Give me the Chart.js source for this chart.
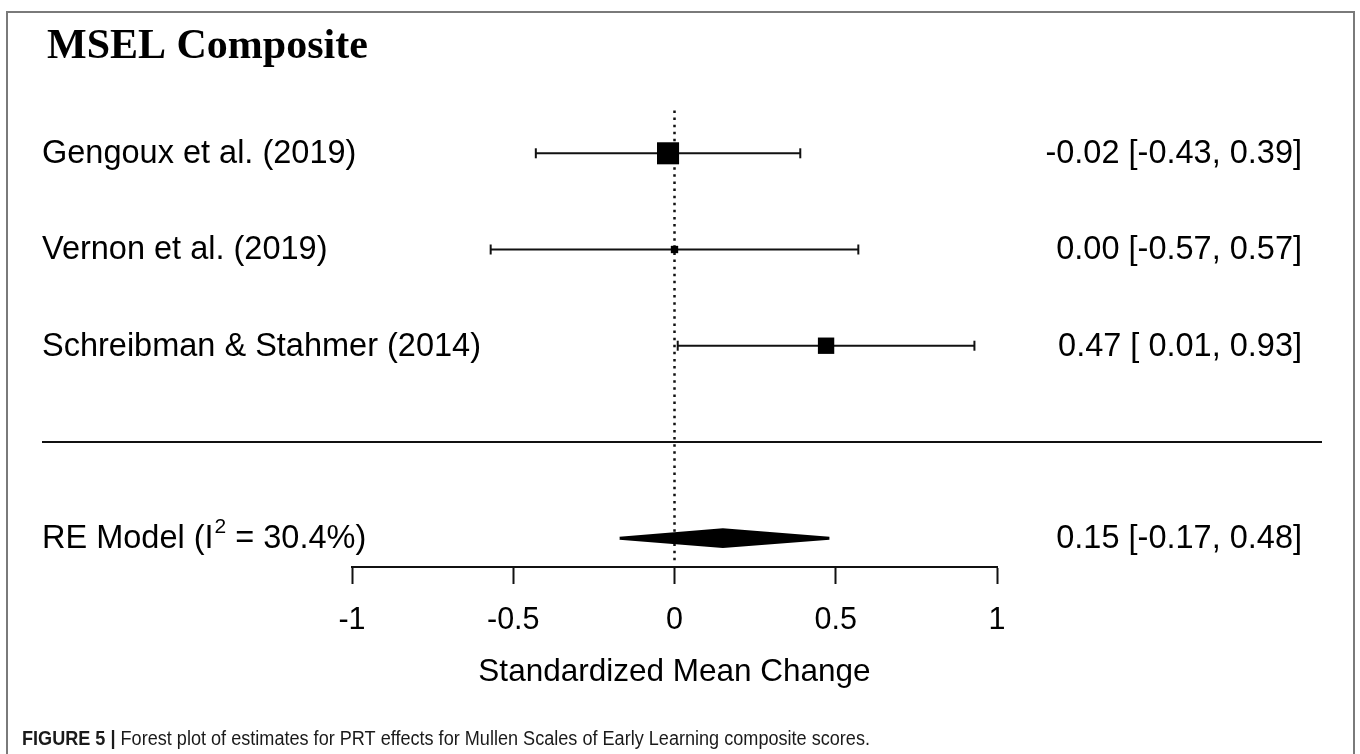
<!DOCTYPE html>
<html>
<head>
<meta charset="utf-8">
<script src="https://cdn.jsdelivr.net/npm/chart.js@4.4.1/dist/chart.umd.min.js"></script>
<style>
html,body{margin:0;padding:0;background:#fff;}
#wrap{position:relative;width:1360px;height:754px;}
canvas{display:block;}
</style>
</head>
<body>
<div id="wrap"><canvas id="c" width="1360" height="754"></canvas></div>
<script>
// ---------- data ----------
const studies = ['Gengoux et al. (2019)', 'Vernon et al. (2019)', 'Schreibman & Stahmer (2014)'];
const estimates = [-0.02, 0.00, 0.47];
const ciLower = [-0.43, -0.57, 0.01];
const ciUpper = [0.39, 0.57, 0.93];
const summaryLabel = 'RE Model';
const summaryI2 = '30.4%';
const summaryEstimate = [0.15];
const summaryLower = [-0.17];
const summaryUpper = [0.48];
const xTicks = [-1, -0.5, 0, 0.5, 1];
const xTickLabels = ['-1', '-0.5', '0', '0.5', '1'];
const chartTitle = 'MSEL Composite';
const xAxisTitle = 'Standardized Mean Change';
const captionBold = 'FIGURE 5 |';
const captionText = ' Forest plot of estimates for PRT effects for Mullen Scales of Early Learning composite scores.';

// ---------- derived ----------
const k = studies.length;
const rows = studies.map((_, i) => k - i);   // 3,2,1
const summaryRow = -1;
const sepRow = 0;
const Y_MIN = -1.3, Y_MAX = 3.45;
// marker size from inverse standard error (metafor style, scaled to 0.5..1.5)
const se = ciLower.map((lo, i) => (ciUpper[i] - lo) / (2 * 1.96));
const invSe = se.map(s => 1 / s);
const wMin = Math.min(...invSe), wMax = Math.max(...invSe);
const cex = invSe.map(w => 0.5 + (w - wMin) / (wMax - wMin));
const BOX_UNIT = 14.7;
const boxRadius = cex.map(c => c * BOX_UNIT / Math.SQRT2);

const SANS = '"Liberation Sans", Arial, Helvetica, sans-serif';
const datasets = [];
// squares
datasets.push({
  type: 'scatter',
  data: estimates.map((e, i) => ({x: e, y: rows[i]})),
  pointStyle: 'rect',
  pointRadius: boxRadius,
  pointHoverRadius: boxRadius,
  backgroundColor: '#000',
  borderColor: '#000',
  borderWidth: 0,
  clip: false
});
// CI whiskers
studies.forEach((s, i) => {
  datasets.push({
    type: 'line',
    data: [{x: ciLower[i], y: rows[i]}, {x: ciUpper[i], y: rows[i]}],
    borderColor: '#111',
    borderWidth: 2,
    pointStyle: 'line',
    rotation: 90,
    pointRadius: 5,
    pointBorderWidth: 2,
    pointBorderColor: '#111',
    tension: 0,
    fill: false,
    clip: false
  });
});
// summary diamond
const dh = 0.088;
datasets.push({
  type: 'line',
  data: [
    {x: summaryLower[0], y: summaryRow},
    {x: summaryEstimate[0], y: summaryRow + dh},
    {x: summaryUpper[0], y: summaryRow},
    {x: summaryEstimate[0], y: summaryRow - dh},
    {x: summaryLower[0], y: summaryRow}
  ],
  borderColor: '#000',
  backgroundColor: '#000',
  borderWidth: 3,
  pointRadius: 0,
  fill: 'shape',
  tension: 0,
  clip: false
});
// dotted reference line at 0
datasets.push({
  type: 'line',
  data: [{x: 0, y: Y_MIN + 0.07}, {x: 0, y: Y_MAX}],
  borderColor: '#111',
  borderWidth: 2.5,
  borderDash: [2.5, 4.6],
  pointRadius: 0,
  fill: false,
  clip: false
});

function pad(s, n) { while (s.length < n) s = ' ' + s; return s; }
const allEst = estimates.concat(summaryEstimate).map(v => v.toFixed(2));
const allLo = ciLower.concat(summaryLower).map(v => v.toFixed(2));
const allHi = ciUpper.concat(summaryUpper).map(v => v.toFixed(2));
const wE = Math.max(...allEst.map(s => s.length));
const wL = Math.max(...allLo.map(s => s.length));
const wH = Math.max(...allHi.map(s => s.length));
const valueText = allEst.map((e, i) => pad(e, wE) + ' [' + pad(allLo[i], wL) + ', ' + pad(allHi[i], wH) + ']');

const LABEL_FONT = '32.5px ' + SANS;
const decor = {
  id: 'decor',
  afterDraw(chart) {
    const ctx = chart.ctx;
    const ys = chart.scales.y;
    ctx.save();
    // frame
    ctx.strokeStyle = '#7a7a7a';
    ctx.lineWidth = 2;
    ctx.beginPath();
    ctx.moveTo(7, 760); ctx.lineTo(7, 12); ctx.lineTo(1354, 12); ctx.lineTo(1354, 760);
    ctx.stroke();
    // title
    ctx.fillStyle = '#000';
    ctx.textBaseline = 'alphabetic';
    ctx.textAlign = 'left';
    ctx.font = 'bold 42px "Liberation Serif", "Times New Roman", serif';
    ctx.fillText(chartTitle, 47, 58);
    // study labels & values
    ctx.font = LABEL_FONT;
    ctx.textBaseline = 'middle';
    studies.forEach((s, i) => {
      const y = ys.getPixelForValue(rows[i]) + 1;
      ctx.textAlign = 'left';
      ctx.fillText(s, 42, y);
      ctx.textAlign = 'right';
      ctx.fillText(valueText[i], 1302, y);
    });
    // summary label with superscript
    const ySum = ys.getPixelForValue(summaryRow) + 1;
    ctx.textAlign = 'left';
    let x = 42;
    const p1 = summaryLabel + ' (I';
    ctx.fillText(p1, x, ySum); x += ctx.measureText(p1).width;
    ctx.font = '21px ' + SANS;
    ctx.fillText('2', x + 1, ySum - 12); x += ctx.measureText('2').width + 1;
    ctx.font = LABEL_FONT;
    ctx.fillText(' = ' + summaryI2 + ')', x, ySum);
    ctx.textAlign = 'right';
    ctx.fillText(valueText[k], 1302, ySum);
    // separator line
    const ySep = ys.getPixelForValue(sepRow);
    ctx.strokeStyle = '#111';
    ctx.lineWidth = 2;
    ctx.beginPath(); ctx.moveTo(42, ySep); ctx.lineTo(1322, ySep); ctx.stroke();
    // caption (condensed sans)
    ctx.textAlign = 'left';
    ctx.textBaseline = 'alphabetic';
    ctx.fillStyle = '#1a1a1a';
    const capX = 22, capY = 745, capW = 848;
    ctx.font = 'bold 20px ' + SANS;
    const bw = ctx.measureText(captionBold).width;
    ctx.font = '20px ' + SANS;
    const tw = ctx.measureText(captionText).width;
    const sx = capW / (bw + tw);
    ctx.translate(capX, capY);
    ctx.scale(sx, 1);
    ctx.font = 'bold 20px ' + SANS;
    ctx.fillText(captionBold, 0, 0);
    ctx.font = '20px ' + SANS;
    ctx.fillText(captionText, bw, 0);
    ctx.restore();
  }
};

new Chart(document.getElementById('c'), {
  data: { datasets },
  options: {
    responsive: false,
    animation: false,
    events: [],
    layout: { padding: { left: 352, right: 363, top: 110, bottom: 0 } },
    plugins: { legend: { display: false }, tooltip: { enabled: false }, title: { display: false } },
    scales: {
      x: {
        type: 'linear',
        position: 'bottom',
        min: -1, max: 1,
        afterBuildTicks: (sc) => { sc.ticks = xTicks.map(v => ({value: v})); },
        afterFit: (sc) => { sc.height = 187; },
        ticks: {
          callback: (v) => xTickLabels[xTicks.indexOf(v)],
          font: { family: SANS, size: 30.5 },
          color: '#000',
          padding: 18,
          maxRotation: 0,
          autoSkip: false
        },
        grid: { drawOnChartArea: false, drawTicks: true, tickLength: 17, tickWidth: 2, tickColor: '#111' },
        border: { display: true, color: '#111', width: 2 },
        title: {
          display: true,
          text: xAxisTitle,
          font: { family: SANS, size: 31.5 },
          color: '#000',
          padding: { top: 0, bottom: 63 }
        }
      },
      y: {
        type: 'linear',
        display: false,
        min: Y_MIN, max: Y_MAX
      }
    }
  },
  plugins: [decor]
});
</script>
</body>
</html>
